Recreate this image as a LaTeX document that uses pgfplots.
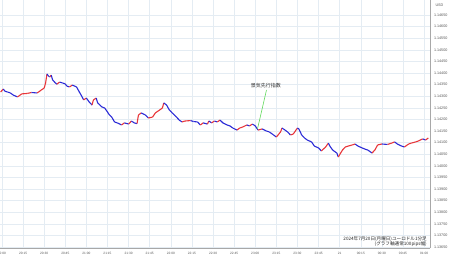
\documentclass[border=0pt]{standalone}
\usepackage{pgfplots}
\pgfplotsset{compat=1.18}
\usepackage{pgfplotstable}
\usepackage{fontspec}
\setmainfont{Liberation Sans}
\newfontfamily\jp{Noto Sans CJK JP}
\definecolor{upred}{HTML}{E8363A}
\definecolor{dnblue}{HTML}{2B2BD6}
\definecolor{gridc}{HTML}{E4ECF3}
\definecolor{axisc}{HTML}{A8A8A8}
\definecolor{labc}{HTML}{555555}
\definecolor{annog}{HTML}{5FD85A}

\pgfplotstableread{
t v m
-1 1.14318 1
1 1.14331 0
2 1.14322 0
4 1.14318 0
6 1.14314 0
8 1.14305 0
11 1.14297 1
12 1.14301 1
14 1.14310 1
18 1.14312 1
21 1.14316 0
25 1.14314 1
26 1.14318 1
28 1.14327 1
30 1.14335 1
31 1.14357 1
32 1.14396 0
33 1.14387 0
34 1.14383 1
35 1.14391 0
36 1.14370 0
38 1.14357 0
39 1.14352 1
41 1.14361 0
43 1.14357 0
45 1.14353 0
46 1.14344 0
48 1.14340 1
50 1.14348 0
53 1.14340 0
55 1.14318 0
57 1.14297 0
58 1.14284 1
60 1.14292 0
62 1.14275 0
64 1.14262 1
65 1.14284 1
67 1.14292 0
68 1.14271 0
71 1.14254 0
73 1.14249 0
75 1.14232 0
76 1.14222 0
78 1.14210 0
80 1.14189 0
82 1.14185 0
85 1.14176 1
87 1.14185 0
90 1.14180 1
92 1.14193 0
94 1.14185 0
96 1.14182 1
97 1.14219 1
99 1.14228 0
102 1.14219 0
104 1.14206 1
107 1.14210 1
109 1.14228 1
111 1.14236 1
114 1.14249 1
115 1.14271 0
117 1.14262 0
119 1.14240 0
121 1.14228 0
124 1.14210 0
126 1.14197 0
128 1.14189 1
130 1.14193 1
134 1.14195 0
136 1.14191 0
139 1.14189 0
141 1.14176 1
143 1.14185 0
146 1.14180 1
147 1.14193 0
149 1.14185 1
151 1.14193 0
153 1.14189 1
155 1.14197 0
157 1.14185 0
160 1.14176 0
162 1.14172 0
164 1.14163 0
167 1.14154 1
169 1.14163 1
171 1.14167 1
174 1.14176 0
176 1.14172 1
178 1.14180 0
180 1.14172 0
182 1.14154 1
185 1.14159 0
188 1.14150 0
190 1.14146 0
193 1.14133 0
195 1.14124 1
198 1.14146 1
199 1.14163 0
200 1.14159 0
203 1.14146 0
205 1.14133 1
207 1.14137 1
210 1.14163 0
211 1.14159 0
213 1.14133 0
215 1.14120 0
217 1.14111 0
220 1.14103 0
222 1.14085 0
225 1.14077 0
227 1.14064 1
230 1.14081 1
232 1.14098 0
233 1.14085 0
235 1.14068 0
238 1.14055 0
239 1.14038 1
242 1.14068 1
244 1.14081 1
246 1.14085 1
249 1.14090 1
251 1.14094 0
253 1.14085 0
256 1.14077 0
258 1.14072 0
260 1.14068 0
263 1.14055 1
265 1.14068 1
267 1.14090 1
270 1.14094 0
274 1.14092 1
277 1.14098 1
279 1.14103 0
281 1.14094 0
284 1.14085 0
286 1.14081 1
289 1.14094 1
291 1.14098 1
294 1.14103 1
296 1.14107 1
299 1.14116 0
301 1.14111 1
303 1.14120 1
}\price

\begin{document}
\begin{tikzpicture}
\useasboundingbox (0,-10pt) rectangle (450pt,248pt);
\begin{axis}[
  at={(0,0)}, anchor=south west,
  width=430pt, height=248pt, scale only axis,
  xmin=-1.4, xmax=304.2,
  ymin=1.136457, ymax=1.147147,
  axis x line*=bottom, axis y line*=right,
  axis line style={draw=axisc, line width=0.5pt, -},
  xtick={0,15,30,45,60,75,90,105,120,135,150,165,180,195,210,225,240,255,270,285,300},
  xticklabels={20:00,20:15,20:30,20:45,21:00,21:15,21:30,21:45,22:00,22:15,22:30,22:45,23:00,23:15,23:30,23:45,21,00:15,00:30,00:45,01:00},
  ytick={1.1365,1.137,1.1375,1.138,1.1385,1.139,1.1395,1.14,1.1405,1.141,1.1415,1.142,1.1425,1.143,1.1435,1.144,1.1445,1.145,1.1455,1.146,1.1465},
  scaled y ticks=false,
  yticklabel style={/pgf/number format/fixed, /pgf/number format/fixed zerofill, /pgf/number format/precision=5, /pgf/number format/assume math mode=true, font=\fontsize{3.7}{4}\selectfont, text=labc, anchor=west, xshift=0.5pt},
  xticklabel style={font=\fontsize{3.2}{4}\selectfont, text=labc, yshift=-1pt},
  major tick length=0pt,
  grid=major,
  major grid style={draw=gridc, line width=0.5pt},
  clip=true,
]
\addplot[mesh, shader=flat corner, point meta=explicit,
  colormap={updown}{color=(dnblue) color=(upred)},
  point meta min=0, point meta max=1, line width=1.1pt, line join=round]
  table[x=t, y=v, meta=m] {\price};
\draw[annog, line width=0.6pt] (axis cs:188.0,1.14327) -- (axis cs:181.6,1.14159);
\node[font=\jp\fontsize{5}{6}\selectfont, text=black!80] at (axis cs:187.6,1.14346) {景気先行指数};
\end{axis}
\node[anchor=west, font=\fontsize{3.7}{4}\selectfont, text=labc] at (432pt,243pt) {USD};
\node[anchor=east, font=\jp\fontsize{4.6}{5}\selectfont, text=black!85, inner sep=0pt] at (427pt,9pt) {2024年7月20日(月曜日)ユーロドル1分足};
\node[anchor=east, font=\jp\fontsize{4.6}{5}\selectfont, text=black!85, inner sep=0pt] at (427pt,3.8pt) {(グラフ軸通常100pips幅)};
\end{tikzpicture}
\end{document}
